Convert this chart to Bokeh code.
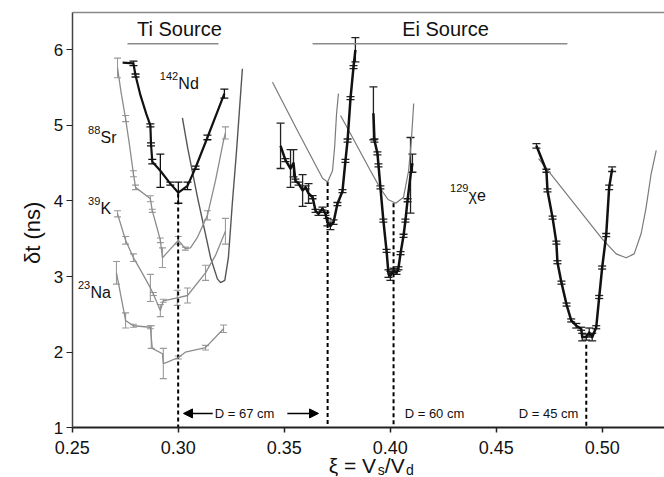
import math
from bokeh.plotting import figure
from bokeh.models import (ColumnDataSource, Whisker, TeeHead, Label, Arrow, NormalHead,
                          FixedTicker, NumeralTickFormatter, LinearAxis)
from bokeh.embed import file_html
from bokeh.resources import INLINE

# ---------------- data ----------------
# Ti source, 142Nd (black)
nd_x = [0.2738, 0.2789, 0.2799, 0.2822, 0.2850, 0.2869, 0.2872, 0.2878, 0.2916, 0.2963, 0.3001, 0.3044, 0.3082, 0.3138, 0.3218]
nd_y = [5.83, 5.82, 5.66, 5.40, 5.15, 5.00, 4.75, 4.52, 4.40, 4.23, 4.11, 4.20, 4.44, 4.84, 5.42]
nd_err = [0.0, 0.03, 0.02, 0.0, 0.0, 0.02, 0.02, 0.03, 0.22, 0.02, 0.14, 0.05, 0.02, 0.03, 0.06]

# 88Sr (grey)
sr_x = [0.2714, 0.2730, 0.2752, 0.2770, 0.2789, 0.2799, 0.2869, 0.2878, 0.2900, 0.2916, 0.2926, 0.2949, 0.3001, 0.3034, 0.3058, 0.3091, 0.3138, 0.3176, 0.3214, 0.3223]
sr_y = [5.76, 5.45, 5.09, 4.75, 4.36, 4.18, 4.03, 3.87, 3.65, 3.48, 3.25, 3.32, 3.48, 3.37, 3.38, 3.52, 3.81, 4.27, 4.80, 4.90]
sr_err = [0.13, 0.0, 0.04, 0.0, 0.04, 0.03, 0.04, 0.02, 0.0, 0.03, 0.13, 0.0, 0.05, 0.02, 0.0, 0.0, 0.06, 0.0, 0.0, 0.08]

# 39K (grey)
k_x = [0.2714, 0.2752, 0.2789, 0.2830, 0.2869, 0.2883, 0.2916, 0.2930, 0.2996, 0.3044, 0.3129, 0.3176, 0.3223]
k_y = [3.83, 3.48, 3.25, 3.05, 2.85, 2.77, 2.55, 2.68, 2.72, 2.75, 3.05, 3.28, 3.60]
k_err = [0.04, 0.05, 0.05, 0.0, 0.18, 0.02, 0.08, 0.02, 0.10, 0.10, 0.10, 0.0, 0.17]

# 23Na (grey)
na_x = [0.2709, 0.2752, 0.2789, 0.2869, 0.2873, 0.2878, 0.2926, 0.2930, 0.2949, 0.3001, 0.3034, 0.3129, 0.3214]
na_y = [3.05, 2.42, 2.35, 2.33, 2.20, 2.05, 1.98, 1.85, 1.87, 1.93, 2.00, 2.06, 2.31]
na_err = [0.15, 0.10, 0.02, 0.02, 0.15, 0.0, 0.0, 0.20, 0.0, 0.02, 0.0, 0.03, 0.05]

# Ti source calculated curve
tifit_x = [0.3020, 0.3045, 0.3091, 0.3153, 0.3185, 0.3200, 0.3220, 0.3237, 0.3255, 0.3275, 0.3303]
tifit_y = [5.10, 4.70, 4.05, 3.25, 2.97, 2.92, 2.95, 3.25, 3.95, 4.65, 5.75]

# Ei source, D = 67 cm (black)
ei1_x = [0.3483, 0.3506, 0.3530, 0.3544, 0.3553, 0.3568, 0.3587, 0.3601, 0.3615, 0.3634, 0.3648, 0.3662, 0.3681, 0.3695, 0.3704, 0.3718, 0.3733, 0.3751, 0.3775, 0.3789, 0.3799, 0.3813, 0.3827, 0.3836]
ei1_y = [4.73, 4.54, 4.43, 4.50, 4.27, 4.23, 4.14, 4.18, 4.10, 4.05, 3.87, 3.83, 3.90, 3.83, 3.72, 3.67, 3.72, 3.96, 4.13, 4.53, 4.80, 5.36, 5.77, 6.00]
ei1_err = [0.30, 0.02, 0.25, 0.18, 0.02, 0.02, 0.21, 0.02, 0.13, 0.02, 0.02, 0.02, 0.02, 0.02, 0.05, 0.05, 0.03, 0.02, 0.02, 0.02, 0.02, 0.02, 0.02, 0.16]
ei1fit_x = [0.3445, 0.3563, 0.3681, 0.3705, 0.3728, 0.3738, 0.3747, 0.3756]
ei1fit_y = [5.57, 4.93, 4.30, 4.25, 4.40, 4.71, 5.15, 5.42]

# Ei source, D = 60 cm (black)
ei2_x = [0.3921, 0.3926, 0.3940, 0.3945, 0.3954, 0.3968, 0.3983, 0.3992, 0.4001, 0.4016, 0.4030, 0.4039, 0.4049, 0.4063, 0.4072, 0.4082, 0.4096, 0.4105]
ei2_y = [5.16, 4.80, 4.63, 4.47, 4.18, 3.74, 3.34, 3.04, 3.01, 3.08, 3.05, 3.11, 3.31, 3.54, 3.74, 4.01, 4.34, 4.50]
ei2_err = [0.35, 0.02, 0.02, 0.02, 0.02, 0.02, 0.02, 0.05, 0.06, 0.03, 0.02, 0.02, 0.02, 0.02, 0.02, 0.02, 0.50, 0.12]
ei2fit_x = [0.3766, 0.3813, 0.3907, 0.3955, 0.3990, 0.4026, 0.4063, 0.4087, 0.4100, 0.4111]
ei2fit_y = [5.13, 4.89, 4.40, 4.16, 4.02, 3.97, 4.05, 4.40, 4.80, 5.29]

# Ei source, 129Xe, D = 45 cm (black)
xe_x = [0.4690, 0.4737, 0.4742, 0.4766, 0.4784, 0.4789, 0.4808, 0.4832, 0.4854, 0.4878, 0.4901, 0.4906, 0.4925, 0.4939, 0.4953, 0.4972, 0.4986, 0.5000, 0.5019, 0.5033, 0.5047]
xe_y = [4.73, 4.40, 4.14, 3.78, 3.45, 3.19, 2.92, 2.63, 2.42, 2.35, 2.31, 2.20, 2.20, 2.26, 2.20, 2.33, 2.73, 3.12, 3.55, 4.18, 4.42]
xe_err = [0.03, 0.02, 0.02, 0.02, 0.02, 0.02, 0.02, 0.02, 0.02, 0.03, 0.02, 0.05, 0.04, 0.06, 0.05, 0.02, 0.02, 0.02, 0.02, 0.03, 0.03]
xefit_x = [0.4700, 0.5000, 0.5066, 0.5113, 0.5151, 0.5184, 0.5207, 0.5231, 0.5255]
xefit_y = [4.56, 3.50, 3.30, 3.25, 3.30, 3.57, 3.91, 4.36, 4.67]

# vertical markers of the minima
min_x = [0.3000, 0.3705, 0.4016, 0.4925]
min_y = [4.10, 4.25, 3.97, 2.10]

# source bars above the groups
bar_x0 = [0.2761, 0.3634]
bar_x1 = [0.3190, 0.4836]
bar_y = [6.08, 6.08]

x_ticks = [0.25, 0.30, 0.35, 0.40, 0.45, 0.50]
y_ticks = [1, 2, 3, 4, 5, 6]

# axis extents of the original frame
X_MIN, X_MAX = 0.25, 0.5294
Y_MIN, Y_MAX = 1.0, 6.497

FONT = "Liberation Sans"

# the frame fills the whole canvas; the axes sit at fixed data positions
p = figure(width=664, height=477, x_range=(0.2162, X_MAX), y_range=(0.3426, 6.652),
           output_backend="svg", toolbar_location=None,
           min_border_left=0, min_border_right=0, min_border_top=0, min_border_bottom=0)
p.background_fill_color = "white"
p.border_fill_color = "white"
p.outline_line_color = None
p.xgrid.visible = False
p.ygrid.visible = False

p.xaxis.fixed_location = Y_MIN
p.xaxis.bounds = (X_MIN, X_MAX)
p.yaxis.fixed_location = X_MIN
p.yaxis.bounds = (Y_MIN, Y_MAX)
p.xaxis.ticker = FixedTicker(ticks=x_ticks)
p.yaxis.ticker = FixedTicker(ticks=y_ticks)
p.xaxis.formatter = NumeralTickFormatter(format="0.00")
p.yaxis.formatter = NumeralTickFormatter(format="0")
for ax in (p.xaxis[0], p.yaxis[0]):
    ax.minor_tick_line_color = None
    ax.major_tick_in = 0
    ax.major_label_text_font = FONT
    ax.major_label_text_color = "#111111"
    ax.axis_line_color = "#222222"
    ax.major_tick_line_color = "#222222"
p.xaxis.axis_line_width = 2
p.xaxis.major_tick_line_width = 1.5
p.xaxis.major_tick_out = 5
p.xaxis.major_label_standoff = 8
p.xaxis.major_label_text_font_size = "18px"
p.yaxis.axis_line_width = 1.5
p.yaxis.axis_line_color = "#444444"
p.yaxis.major_tick_out = 6
p.yaxis.major_label_standoff = 3
p.yaxis.major_label_text_font_size = "17px"

# top border of the frame
top = LinearAxis(fixed_location=Y_MAX, bounds=(X_MIN, X_MAX), ticker=FixedTicker(ticks=[]),
                 axis_line_color="#888888", axis_line_width=1.5,
                 major_tick_line_color=None, minor_tick_line_color=None,
                 major_label_text_font_size="0px")
p.add_layout(top, "above")

# source bars
p.segment(x0=bar_x0, y0=bar_y, x1=bar_x1, y1=bar_y, line_color="#8a8a8a", line_width=1.5)

# dashed verticals
p.segment(x0=min_x, y0=min_y, x1=min_x, y1=[Y_MIN] * len(min_x),
          line_color="black", line_width=2, line_dash="4 3")


def series(x, y, err, color, width, cap_color, cap_w, cap_size):
    p.line(x, y, line_color=color, line_width=width, line_join="round")
    xs = [a for a, e in zip(x, err) if e > 0]
    lo = [b - e for b, e in zip(y, err) if e > 0]
    hi = [b + e for b, e in zip(y, err) if e > 0]
    src = ColumnDataSource(dict(x=xs, lo=lo, hi=hi))
    w = Whisker(source=src, base="x", lower="lo", upper="hi",
                line_color=cap_color, line_width=cap_w,
                upper_head=TeeHead(size=cap_size, line_color=cap_color, line_width=cap_w),
                lower_head=TeeHead(size=cap_size, line_color=cap_color, line_width=cap_w))
    p.add_layout(w)


GREY = "#8c8c8c"
# calculated curves (thin)
p.line(tifit_x, tifit_y, line_color="#555555", line_width=1.4)
p.line(ei1fit_x, ei1fit_y, line_color="#7a7a7a", line_width=1.2)
p.line(ei2fit_x, ei2fit_y, line_color="#7a7a7a", line_width=1.2)
p.line(xefit_x, xefit_y, line_color="#7a7a7a", line_width=1.2)

series(na_x, na_y, na_err, GREY, 1.3, "#9a9a9a", 1.1, 7)
series(k_x, k_y, k_err, GREY, 1.3, "#9a9a9a", 1.1, 7)
series(sr_x, sr_y, sr_err, GREY, 1.3, "#9a9a9a", 1.1, 7)
series(nd_x, nd_y, nd_err, "#111111", 2.2, "#111111", 1.3, 8)
series(ei1_x, ei1_y, ei1_err, "#111111", 2.5, "#222222", 1.3, 8)
series(ei2_x, ei2_y, ei2_err, "#111111", 2.5, "#222222", 1.3, 8)
series(xe_x, xe_y, xe_err, "#111111", 2.5, "#222222", 1.3, 8)


def lab(x, y, text, size, align="left", baseline="alphabetic", angle=0.0, color="#111111"):
    p.add_layout(Label(x=x, y=y, text=text, text_font=FONT, text_font_size=size,
                       text_align=align, text_baseline=baseline, angle=angle,
                       text_color=color))


# group titles
lab(0.3006, 6.28, "Ti Source", "20px", "center", "middle")
lab(0.4261, 6.28, "Ei Source", "20px", "center", "middle")

# isotope labels (superscript mass numbers)
lab(0.3001, 5.55, "Nd", "16px")
lab(0.3000, 5.70, "142", "11px", "right", "top")
lab(0.2634, 4.84, "Sr", "16px")
lab(0.2633, 4.99, "88", "11px", "right", "top")
lab(0.2634, 3.90, "K", "16px")
lab(0.2633, 4.05, "39", "11px", "right", "top")
lab(0.2586, 2.79, "Na", "16px")
lab(0.2585, 2.94, "23", "11px", "right", "top")
lab(0.4370, 4.07, "χe", "16px")
lab(0.4369, 4.22, "129", "11px", "right", "top")

# distance annotations
lab(0.3313, 1.19, "D = 67 cm", "13px", "center", "middle")
lab(0.4209, 1.19, "D = 60 cm", "13px", "center", "middle")
lab(0.4747, 1.19, "D = 45 cm", "13px", "center", "middle")
p.add_layout(Arrow(x_start=0.3163, y_start=1.19, x_end=0.3025, y_end=1.19, line_width=1.5,
                   line_color="black", end=NormalHead(size=9, fill_color="black", line_color="black")))
p.add_layout(Arrow(x_start=0.3515, y_start=1.19, x_end=0.3662, y_end=1.19, line_width=1.5,
                   line_color="black", end=NormalHead(size=9, fill_color="black", line_color="black")))

# axis titles
lab(0.2313, 3.58, "δt (ns)", "22px", "center", "middle", angle=math.pi / 2)
lab(0.3710, 0.505, "ξ = V", "21px")
lab(0.3942, 0.445, "s", "14px")
lab(0.3975, 0.505, "/V", "21px")
lab(0.4075, 0.445, "d", "14px")

open("out.html", "w").write(file_html(p, INLINE))
